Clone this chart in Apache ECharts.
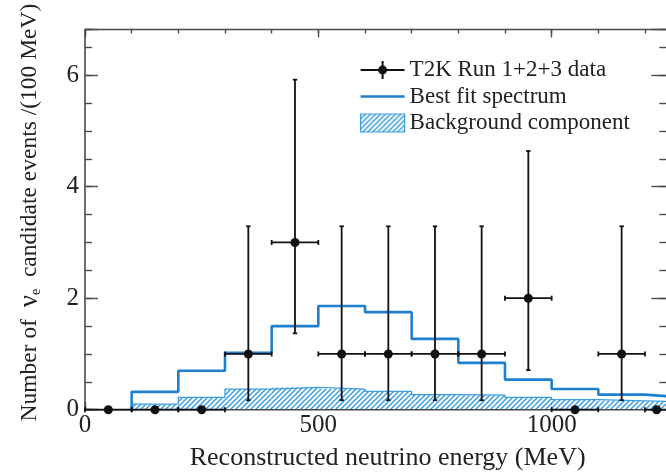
<!DOCTYPE html>
<html><head><meta charset="utf-8">
<script src="https://cdn.jsdelivr.net/npm/echarts@6/dist/echarts.min.js"></script>
<style>html,body{margin:0;padding:0;background:#fff}#c{width:666px;height:473px}</style>
</head><body><div id="c"></div>
<script>
// ---- data ----
const binLow  = [0,100,200,300,400,500,600,700,800,900,1000,1100,1200];
const binHigh = [100,200,300,400,500,600,700,800,900,1000,1100,1200,1250];
const dataCenter = [50,150,250,350,450,550,650,750,850,950,1050,1150,1225];
const dataCount  = [0,0,0,1,3,1,1,1,1,2,0,1,0];
const errDown    = [0,0,0,0.83,1.63,0.83,0.83,0.83,0.83,1.29,0,0.83,0];
const errUp      = [0,0,0,2.29,2.92,2.29,2.29,2.29,2.29,2.64,0,2.29,0];
const bestFit    = [0,0.32,0.70,1.02,1.50,1.86,1.75,1.27,0.84,0.54,0.37,0.27,0.24];
const background = [0,0.10,0.22,0.37,0.40,0.37,0.33,0.27,0.26,0.22,0.18,0.16,0.15];
const xTickLabels = [0,500,1000];
const yTickLabels = [0,2,4,6];
const seriesNames = ['T2K Run 1+2+3 data','Best fit spectrum','Background component'];

// ---- styling helpers ----
const FONT = 'Liberation Serif';
const FRAME = '#4a4a4a';
const BLUE = '#1f80d0';
const HATCH = '#3c9ee0';

function makeHatch(){
  const c = document.createElement('canvas');
  c.width = 5; c.height = 5;
  const g = c.getContext('2d');
  g.fillStyle = '#ffffff'; g.fillRect(0,0,5,5);
  g.strokeStyle = HATCH; g.lineWidth = 1.5;
  g.beginPath();
  g.moveTo(-1,6); g.lineTo(6,-1);
  g.moveTo(-1,1); g.lineTo(1,-1);
  g.moveTo(4,6); g.lineTo(6,4);
  g.stroke();
  return c;
}
const hatchPattern = {image: makeHatch(), repeat: 'repeat'};

function stepData(vals){
  const first = vals.findIndex(v => v > 0);
  const last = vals.length - 1;
  const pts = [[binLow[first], 0]];
  for (let i = first; i <= last; i++) pts.push([binLow[i], vals[i]]);
  pts.push([binHigh[last], vals[last]]);
  return pts;
}

const xMax = binHigh[binHigh.length-1];
const yMax = 6.82;

function xAxisDef(pos, interval, len, labels){
  return {
    type:'value', position:pos, min:0, max:xMax, interval:interval,
    axisLine:{show:false, onZero:false},
    splitLine:{show:false},
    axisTick:{show:true, inside:true, length:len, lineStyle:{color:FRAME, width:1.4}},
    axisLabel: labels ? {show:true, margin:3, fontFamily:FONT, fontSize:25, color:'#222',
      showMinLabel:true, hideOverlap:false,
      formatter: v => xTickLabels.indexOf(v) >= 0 ? String(v) : ''} : {show:false}
  };
}
function yAxisDef(pos, interval, len, labels){
  return {
    type:'value', position:pos, min:0, max:yMax, interval:interval,
    axisLine:{show:false, onZero:false},
    splitLine:{show:false},
    axisTick:{show:true, inside:true, length:len, lineStyle:{color:FRAME, width:1.4}},
    axisLabel: labels ? {show:true, margin:6, fontFamily:FONT, fontSize:25, color:'#222',
      showMinLabel:true, hideOverlap:false,
      formatter: v => yTickLabels.indexOf(v) >= 0 ? String(v) : ''} : {show:false}
  };
}

const xAxes = [
  xAxisDef('bottom', 500, 8, true),
  xAxisDef('bottom', 100, 4, false),
  xAxisDef('top', 500, 8, false),
  xAxisDef('top', 100, 4, false)
];
Object.assign(xAxes[0], {
  name:'Reconstructed neutrino energy (MeV)', nameLocation:'middle', nameGap:35,
  nameTextStyle:{fontFamily:FONT, fontSize:26, color:'#222', padding:[0,0,0,22]}
});
const yAxes = [
  yAxisDef('left', 2, 13, true),
  yAxisDef('left', 0.5, 7, false),
  yAxisDef('right', 2, 17, false),
  yAxisDef('right', 0.5, 9, false)
];
Object.assign(yAxes[0], {
  name:'Number of  {nu|ν}{sub|e}  candidate events /(100 MeV)',
  nameLocation:'middle', nameGap:42, nameRotate:90,
  nameTextStyle:{fontFamily:FONT, fontSize:23.5, color:'#222', padding:[0,0,0,14],
    rich:{
      nu:{fontFamily:FONT, fontSize:27, color:'#222'},
      sub:{fontFamily:FONT, fontSize:14, color:'#222', verticalAlign:'bottom', lineHeight:27}
    }}
});

const dataItems = dataCenter.map((c,i) => [c, dataCount[i], errDown[i], errUp[i], binLow[i], binHigh[i]]);
const bgItems = binLow.map((lo,i) => [lo, binHigh[i], background[i]]);

const dataIcon = 'path://M0,8L44,8L44,10L0,10Z M21,0L23,0L23,18L21,18Z M17.5,9A4.5,4.5,0,1,1,26.5,9A4.5,4.5,0,1,1,17.5,9Z';
const lineIcon = 'path://M0,0L0.01,0L0,0.01Z M0,7.7L44,7.7L44,10.3L0,10.3Z M44,18L43.99,18L44,17.99Z';

const option = {
  animation:false,
  backgroundColor:'#ffffff',
  grid:{left:85, top:29.5, right:-2.3, bottom:63.3, containLabel:false, outerBoundsMode:'none',
    show:true, borderColor:FRAME, borderWidth:1.6, backgroundColor:'transparent', z:3},
  legend:{
    orient:'vertical', left:360, top:58.5, padding:0, itemWidth:44, itemHeight:18, itemGap:3.5,
    textStyle:{fontFamily:FONT, fontSize:23, color:'#222', lineHeight:23},
    selectedMode:false,
    data:[
      {name:seriesNames[0], icon:dataIcon, itemStyle:{color:'#111'}},
      {name:seriesNames[1], icon:lineIcon, itemStyle:{color:BLUE, borderWidth:0}},
      {name:seriesNames[2], icon:'rect', itemStyle:{color:hatchPattern, borderColor:HATCH, borderWidth:1.2}}
    ]
  },
  xAxis:xAxes,
  yAxis:yAxes,
  series:[
    {
      name:seriesNames[2], type:'custom', z:1,
      encode:{x:[0,1], y:2},
      data:bgItems,
      itemStyle:{color:hatchPattern},
      renderItem:function(params, api){
        const lo = api.value(0), hi = api.value(1), v = api.value(2);
        if (!(v > 0)) return null;
        const p0 = api.coord([lo, 0]), p1 = api.coord([hi, v]);
        return {type:'rect', shape:{x:p0[0], y:p1[1], width:p1[0]-p0[0], height:p0[1]-p1[1]},
          style:{fill:hatchPattern}};
      }
    },
    {
      name:'bg-outline', type:'line', step:'end', z:2, silent:true,
      symbol:'none', data:stepData(background),
      lineStyle:{color:HATCH, width:1.3}
    },
    {
      name:seriesNames[1], type:'line', step:'end', z:4,
      symbol:'none', data:stepData(bestFit),
      color:BLUE,
      lineStyle:{color:BLUE, width:2.6}
    },
    {
      name:seriesNames[0], type:'custom', z:6,
      encode:{x:0, y:1},
      data:dataItems,
      itemStyle:{color:'#111'},
      renderItem:function(params, api){
        const cx = api.value(0), cy = api.value(1), dn = api.value(2), up = api.value(3);
        const lo = api.value(4), hi = api.value(5);
        const c = api.coord([cx, cy]);
        const pl = api.coord([lo, cy]), ph = api.coord([hi, cy]);
        const st = {stroke:'#111', lineWidth:1.8};
        const ch = [];
        ch.push({type:'line', shape:{x1:pl[0], y1:c[1], x2:ph[0], y2:c[1]}, style:st});
        ch.push({type:'line', shape:{x1:pl[0], y1:c[1]-2.5, x2:pl[0], y2:c[1]+2.5}, style:st});
        ch.push({type:'line', shape:{x1:ph[0], y1:c[1]-2.5, x2:ph[0], y2:c[1]+2.5}, style:st});
        if (up > 0) {
          const t = api.coord([cx, cy + up]), b = api.coord([cx, cy - dn]);
          ch.push({type:'line', shape:{x1:c[0], y1:t[1], x2:c[0], y2:b[1]}, style:st});
          ch.push({type:'line', shape:{x1:c[0]-2.2, y1:t[1], x2:c[0]+2.2, y2:t[1]}, style:st});
          ch.push({type:'line', shape:{x1:c[0]-2.2, y1:b[1], x2:c[0]+2.2, y2:b[1]}, style:st});
        }
        ch.push({type:'circle', shape:{cx:c[0], cy:c[1], r:4.5}, style:{fill:'#111'}});
        return {type:'group', children:ch};
      }
    }
  ]
};
const chart = echarts.init(document.getElementById('c'), null, {renderer:'canvas'});
chart.setOption(option);
</script>
</body></html>
